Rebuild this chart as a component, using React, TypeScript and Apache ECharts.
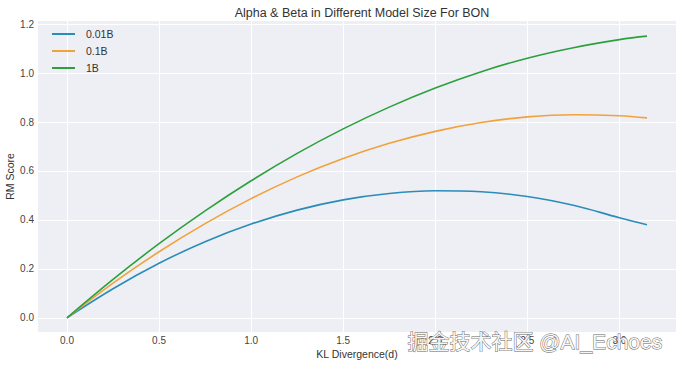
import React, { useEffect, useRef } from "react";
import * as echarts from "echarts";

const klValues = [0, 0.25, 0.5, 0.75, 1.0, 1.25, 1.5, 1.75, 2.0, 2.25, 2.5, 2.75, 3.0, 3.15];
const seriesNames = ["0.01B", "0.1B", "1B"];
const score001B = [0, 0.119, 0.223, 0.311, 0.383, 0.44, 0.482, 0.508, 0.519, 0.515, 0.496, 0.46, 0.409, 0.38];
const score01B = [0, 0.142, 0.27, 0.385, 0.487, 0.576, 0.651, 0.713, 0.762, 0.798, 0.821, 0.83, 0.826, 0.817];
const score1B = [0, 0.157, 0.303, 0.437, 0.56, 0.672, 0.772, 0.861, 0.939, 1.006, 1.061, 1.104, 1.137, 1.151];
const xTicks = [0, 0.5, 1.0, 1.5, 2.0, 2.5, 3.0];
const yTicks = [0, 0.2, 0.4, 0.6, 0.8, 1.0, 1.2];
const colors = ["#2a8cb8", "#f2a23a", "#2ca03c"];

const font = "Liberation Sans, Arial, sans-serif";

export default function App() {
  const ref = useRef<HTMLDivElement>(null);
  useEffect(() => {
    if (!ref.current) return;
    const chart = echarts.init(ref.current, undefined, { renderer: "svg" });
    const allSeries = [score001B, score01B, score1B];
    chart.setOption({
      animation: false,
      backgroundColor: "#ffffff",
      title: {
        text: "Alpha & Beta in Different Model Size For BON",
        left: 357,
        textAlign: "center",
        top: 1,
        textStyle: { fontFamily: font, fontSize: 12.5, fontWeight: "normal", color: "#333" },
      },
      legend: {
        left: 47,
        top: 23,
        orient: "vertical",
        icon: "rect",
        itemWidth: 23,
        itemHeight: 2,
        itemGap: 5,
        data: seriesNames,
        textStyle: { fontFamily: font, fontSize: 10.5, color: "#333", padding: [0, 0, 0, 6], lineHeight: 12 },
      },
      grid: {
        left: 38,
        right: 7,
        top: 21,
        bottom: 36,
        show: true,
        backgroundColor: "#eeeff5",
        borderWidth: 0,
        outerBoundsMode: "none",
        containLabel: false,
      },
      xAxis: {
        type: "value",
        min: -0.1575,
        max: 3.3075,
        name: "KL Divergence(d)",
        nameLocation: "middle",
        nameGap: 16,
        nameMoveOverlap: false,
        nameTextStyle: { fontFamily: font, fontSize: 10.5, color: "#333" },
        axisLine: { show: false },
        axisTick: { show: false, customValues: xTicks },
        axisLabel: {
          customValues: xTicks,
          fontFamily: font,
          fontSize: 10,
          color: "#444",
          margin: 3,
          formatter: (v: number) => v.toFixed(1),
        },
        splitLine: { show: true, lineStyle: { color: "#ffffff", width: 1 } },
      },
      yAxis: {
        type: "value",
        min: -0.058,
        max: 1.213,
        name: "RM Score",
        nameLocation: "middle",
        nameGap: 23,
        nameMoveOverlap: false,
        nameTextStyle: { fontFamily: font, fontSize: 10.5, color: "#333" },
        axisLine: { show: false },
        axisTick: { show: false, customValues: yTicks },
        axisLabel: {
          customValues: yTicks,
          fontFamily: font,
          fontSize: 10,
          color: "#444",
          margin: 4,
          formatter: (v: number) => v.toFixed(1),
        },
        splitLine: { show: true, lineStyle: { color: "#ffffff", width: 1 } },
      },
      series: seriesNames.map((name, i) => ({
        name,
        type: "line",
        smooth: 0.4,
        symbol: "none",
        color: colors[i],
        lineStyle: { width: 1.6, color: colors[i] },
        data: klValues.map((x, j) => [x, allSeries[i][j]]),
      })),
      graphic: [
        {
          type: "text",
          left: 407,
          top: 331,
          style: {
            text: "掘金技术社区 @AI_Echoes",
            font: '21px "Liberation Sans", "Noto Sans CJK SC", sans-serif',
            fill: "#f6f6f6",
            stroke: "#666",
            lineWidth: 0.9,
          },
          z: 100,
        },
      ],
    });
    return () => chart.dispose();
  }, []);
  return (
    <div
      ref={ref}
      style={{ position: "fixed", left: 0, top: 0, width: 683, height: 368 }}
    />
  );
}
